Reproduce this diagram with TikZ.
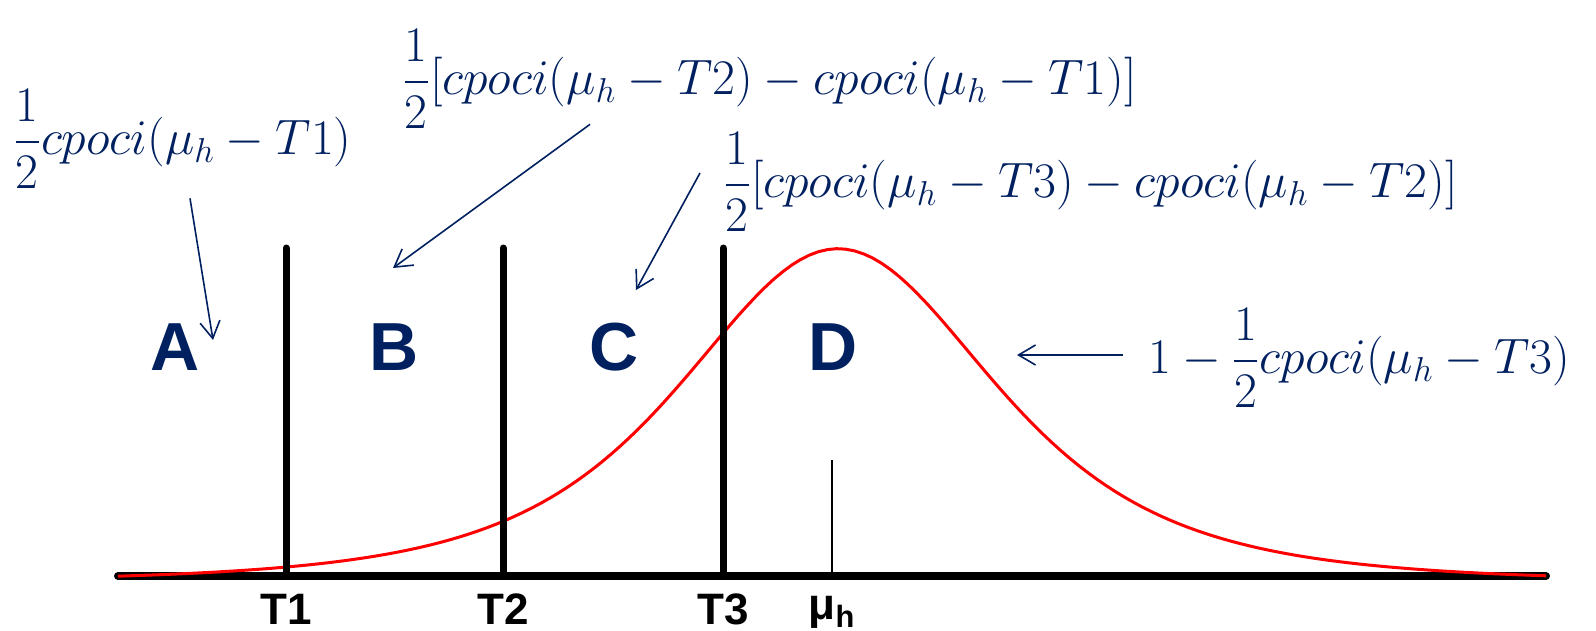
\documentclass[tikz,border=0pt]{standalone}
\usepackage{fontspec}
\usepackage{amsmath}
\newfontfamily\arial{Liberation Sans}
\usetikzlibrary{arrows.meta, positioning}
\definecolor{navy}{HTML}{002060}

\begin{document}
\begin{tikzpicture}[
    x=0.5pt, y=-0.5pt,
    region/.style={font=\arial\bfseries\fontsize{34}{40}\selectfont, text=navy},
    tick/.style={font=\arial\bfseries\fontsize{22}{26}\selectfont, inner sep=0pt},
    formula/.style={font=\fontsize{25}{30}\selectfont, text=navy, inner sep=0pt, anchor=west},
    ptr/.style={-{Straight Barb[length=8.5pt, width=10pt]}, draw=navy, line width=0.8pt}
]
    \useasboundingbox (0,0) rectangle (1596,631);

    % Axis
    \draw[line width=4pt, line cap=round] (118,576) -- (1546,576);

    % Density of mu_h
    \draw[red, line width=1.5pt] plot[domain=118:1546, samples=160]
        (\x, {576 - 334*(1/(1+((\x-838)/290)^2)^2 - 0.02)});

    % Thresholds
    \foreach \name/\xpos in {T1/286, T2/503, T3/723} {
        \draw[line width=3.5pt, line cap=round] (\xpos,248) -- (\xpos,576);
        \node[tick] (\name) at (\xpos,609) {\name};
    }

    % Mean
    \draw[line width=0.6pt] (832,460) -- (832,576);
    \node[tick] (muh) at (832,612) {μ\textsubscript{h}};

    % Regions
    \foreach \name/\xpos in {A/175, B/394, C/614, D/833}
        \node[region] (\name) at (\xpos,347) {\name};

    % Probabilities
    \node[formula] (fA) at (13,139) {$\dfrac{1}{2}cpoci(\mu_h-T1)$};
    \node[formula] (fB) at (402,79) {$\dfrac{1}{2}[cpoci(\mu_h-T2)-cpoci(\mu_h-T1)]$};
    \node[formula] (fC) at (723,182) {$\dfrac{1}{2}[cpoci(\mu_h-T3)-cpoci(\mu_h-T2)]$};
    \node[formula] (fD) at (1148,358) {$1-\dfrac{1}{2}cpoci(\mu_h-T3)$};

    \coordinate (tipA) at (213,340);
    \coordinate (tipB) at (393,268);
    \coordinate (tipC) at (636,290);
    \coordinate (tipD) at (1017,355);

    \draw[ptr] ([xshift=88.5pt, yshift=-4.5pt]fA.south west) -- (tipA);
    \draw[ptr] ([xshift=94pt, yshift=2.5pt]fB.south west) -- (tipB);
    \draw[ptr] ([xshift=-11.5pt, yshift=4.5pt]fC.west) -- (tipC);
    \draw[ptr] ([xshift=-12.5pt, yshift=1.5pt]fD.west) -- (tipD);
\end{tikzpicture}
\end{document}
